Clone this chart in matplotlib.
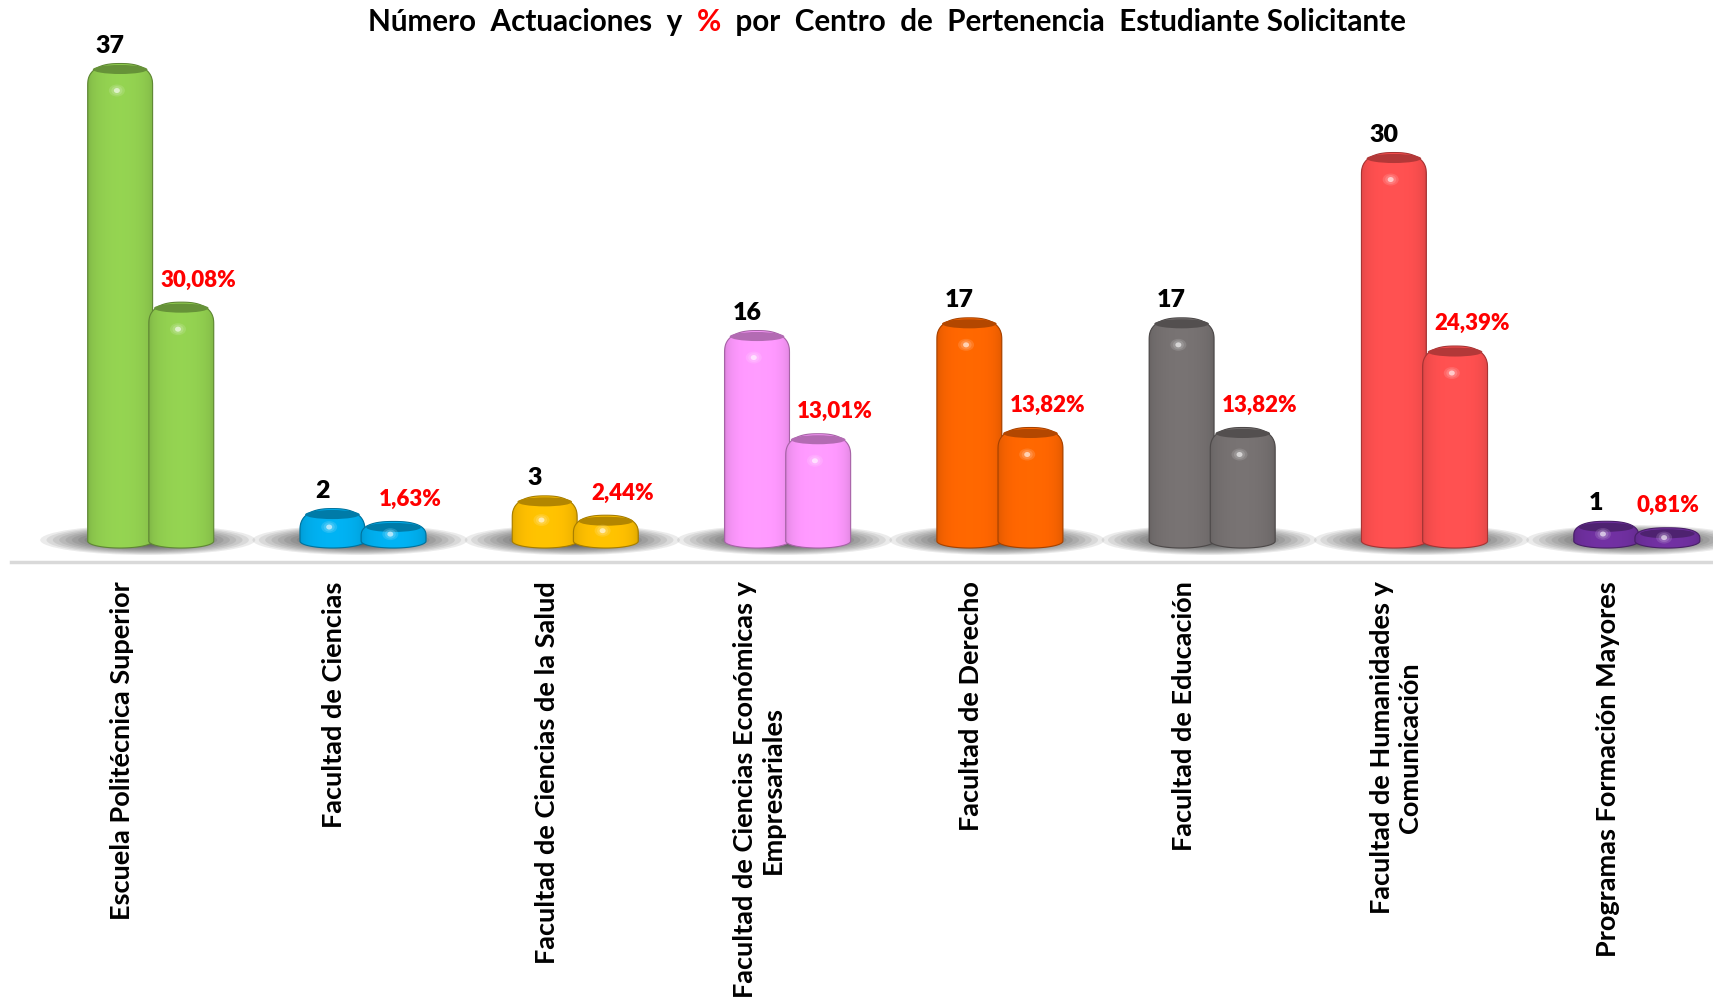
import numpy as np
import matplotlib
matplotlib.use("Agg")
import matplotlib.pyplot as plt
from matplotlib.patches import Ellipse, PathPatch
from matplotlib.path import Path
from matplotlib.colors import to_rgb

# Actuaciones por centro del estudiante solicitante
centros = [
    "Escuela Politécnica Superior",
    "Facultad de Ciencias",
    "Facultad de Ciencias de la Salud",
    "Facultad de Ciencias Económicas y\nEmpresariales",
    "Facultad de Derecho",
    "Facultad de Educación",
    "Facultad de Humanidades y\nComunicación",
    "Programas Formación Mayores",
]
actuaciones = [37, 2, 3, 16, 17, 17, 30, 1]
porcentajes = [30.08, 1.63, 2.44, 13.01, 13.82, 13.82, 24.39, 0.81]
colores = ["#92D050", "#00B0F0", "#FFC000", "#FF99FF",
           "#FF6600", "#767171", "#FF5050", "#7030A0"]

FUENTE = "Lato"
W_PX, H_PX = 1713, 1000
AX_LEFT, AX_RIGHT, AX_BOTTOM, AX_TOP = 11, 1713, 562, 40   # pixeles
ANCHO = 0.306          # ancho de cada cilindro
DESPL = 0.135          # desplazamiento de la perspectiva 3D
SEP = 0.144            # medio paso entre los dos cilindros

fig = plt.figure(figsize=(W_PX / 100, H_PX / 100), dpi=100)
ax = fig.add_axes([AX_LEFT / W_PX, 1 - AX_BOTTOM / H_PX,
                   (AX_RIGHT - AX_LEFT) / W_PX, (AX_BOTTOM - AX_TOP) / H_PX])
ax2 = ax.twinx()

ax.set_xlim(-0.523, 7.494)
ax.set_ylim(-1.65, 39.4)
ax2.set_ylim(-2.72, 65.0)

AX_H = AX_BOTTOM - AX_TOP
AX_W = AX_RIGHT - AX_LEFT


def py(a, px):
    lo, hi = a.get_ylim()
    return px * (hi - lo) / AX_H


def px_x(px):
    lo, hi = ax.get_xlim()
    return px * (hi - lo) / AX_W


def silueta(xc, w, h, ev, hombro):
    hombro = min(hombro, h * 0.6)
    t = np.linspace(np.pi, 2 * np.pi, 50)
    bx = xc + w / 2 * np.cos(t)
    by = ev * np.sin(t)
    t2 = np.linspace(0, np.pi, 60)
    tx = xc + w / 2 * np.sign(np.cos(t2)) * np.abs(np.cos(t2)) ** 0.8
    ty = (h - hombro) + (ev + hombro) * np.sin(t2) ** 0.8
    xs = np.concatenate([bx, tx, bx[:1]])
    ys = np.concatenate([by, ty, by[:1]])
    return Path(np.column_stack([xs, ys]), closed=True)


def cilindros(a, xs, valores, z):
    barras = a.bar(xs, valores, width=ANCHO, color=colores, zorder=z)
    ev = py(a, 7)
    hombro = py(a, 15)
    perfil = np.linspace(0, 1, 80)
    brillo = 0.80 + 0.18 * np.sin(np.pi * perfil) ** 0.35
    for rect, col in zip(barras.patches, colores):
        xc = rect.get_x() + rect.get_width() / 2
        w = rect.get_width()
        h = rect.get_height()
        base = np.array(to_rgb(col))
        contorno = PathPatch(silueta(xc, w, h, ev, hombro), facecolor="none",
                             edgecolor=base * 0.65, lw=0.8, zorder=z + 2)
        a.add_patch(contorno)
        rect.set_clip_path(contorno)
        grad = np.clip(base[None, None, :] * brillo[None, :, None] / 0.96, 0, 1)
        im = a.imshow(grad, extent=(xc - w / 2, xc + w / 2, -ev, h + ev),
                      origin="lower", aspect="auto", interpolation="bilinear",
                      zorder=z + 1)
        im.set_clip_path(contorno)
        # cara superior
        a.add_patch(Ellipse((xc, h + ev * 0.15), w * 0.84, ev * 1.3,
                            color=base * 0.7, zorder=z + 3, lw=0))
        # brillo
        yb = h - min(py(a, 20), h * 0.45)
        claro = base + (1 - base) * 0.5
        for k, (sx, sy, al) in enumerate([(16, 12, 0.25), (11, 9, 0.35),
                                          (6, 5, 0.6)]):
            a.add_patch(Ellipse((xc - w * 0.05, yb), px_x(sx), py(a, sy),
                                color=claro if k < 2 else "white", alpha=al,
                                zorder=z + 3, lw=0))
    return barras


x = np.arange(len(centros))
x_num = x + DESPL - SEP
x_pct = x + DESPL + SEP

# sombras difuminadas bajo cada grupo
for xi in x + DESPL:
    for k in range(16):
        f = 1 - k / 17
        ax.add_patch(Ellipse((xi - px_x(3), py(ax, 1)), px_x(215) * f,
                             py(ax, 30) * f, color="#1e1e1e", alpha=0.085,
                             lw=0, zorder=1))

cilindros(ax, x_num, actuaciones, 2)
cilindros(ax2, x_pct, porcentajes, 2)

for xi, v in zip(x_num, actuaciones):
    ax.annotate(str(v), xy=(xi - px_x(10), v), xytext=(0, 10),
                textcoords="offset points", ha="center", va="bottom",
                fontsize=18, fontweight="heavy", family=FUENTE, color="black",
                zorder=10)
etiquetas_pct = []
for xi, v in zip(x_pct, porcentajes):
    etiquetas_pct.append(ax2.annotate(
        f"{v:.2f}".replace(".", ",") + "%", xy=(xi + px_x(17), v),
        xytext=(0, 13.5), textcoords="offset points", ha="center",
        va="bottom", fontsize=16, fontweight="heavy", family=FUENTE,
        color="red", zorder=10, annotation_clip=False))

ax.set_xticks(x)
ax.set_xticklabels(centros, rotation=90, fontsize=19.5, fontweight="bold",
                   family=FUENTE, va="top", ha="center", linespacing=1.2)
ax.tick_params(axis="x", length=0, pad=14)
ax.tick_params(axis="y", left=False, labelleft=False)
ax2.tick_params(axis="y", right=False, labelright=False)
for a in (ax, ax2):
    for lado in ("top", "left", "right"):
        a.spines[lado].set_visible(False)
ax2.spines["bottom"].set_visible(False)
ax.spines["bottom"].set_color("#D9D9D9")
ax.spines["bottom"].set_linewidth(2.5)
ax.patch.set_visible(False)
ax2.patch.set_visible(False)

# titulo con el signo % en rojo
t1 = fig.text(368 / W_PX, 1 - 30.7 / H_PX, "Número  Actuaciones  y  ",
              fontsize=21.3, fontweight="bold", family=FUENTE, va="baseline")
t2 = fig.text(0, 0, "%", fontsize=21.3, fontweight="bold", family=FUENTE,
              color="red")
t3 = fig.text(0, 0, "  por  Centro  de  Pertenencia  Estudiante Solicitante",
              fontsize=21.3, fontweight="bold", family=FUENTE)
fig.canvas.draw()
r = fig.canvas.get_renderer()
bb1 = t1.get_window_extent(r)
t2.set_position((bb1.x1 / W_PX, t1.get_position()[1]))
t2.set_va("baseline")
bb2 = t2.get_window_extent(r)
t3.set_position((bb2.x1 / W_PX, t1.get_position()[1]))
t3.set_va("baseline")

# las etiquetas que se salen por la derecha se recolocan dentro
for et in etiquetas_pct:
    bb = et.get_window_extent(r)
    exceso = bb.x1 - (W_PX - 14)
    if exceso > 0:
        et.xy = (et.xy[0] - px_x(exceso), et.xy[1])

fig.savefig("out.png", dpi=100, facecolor="white")
